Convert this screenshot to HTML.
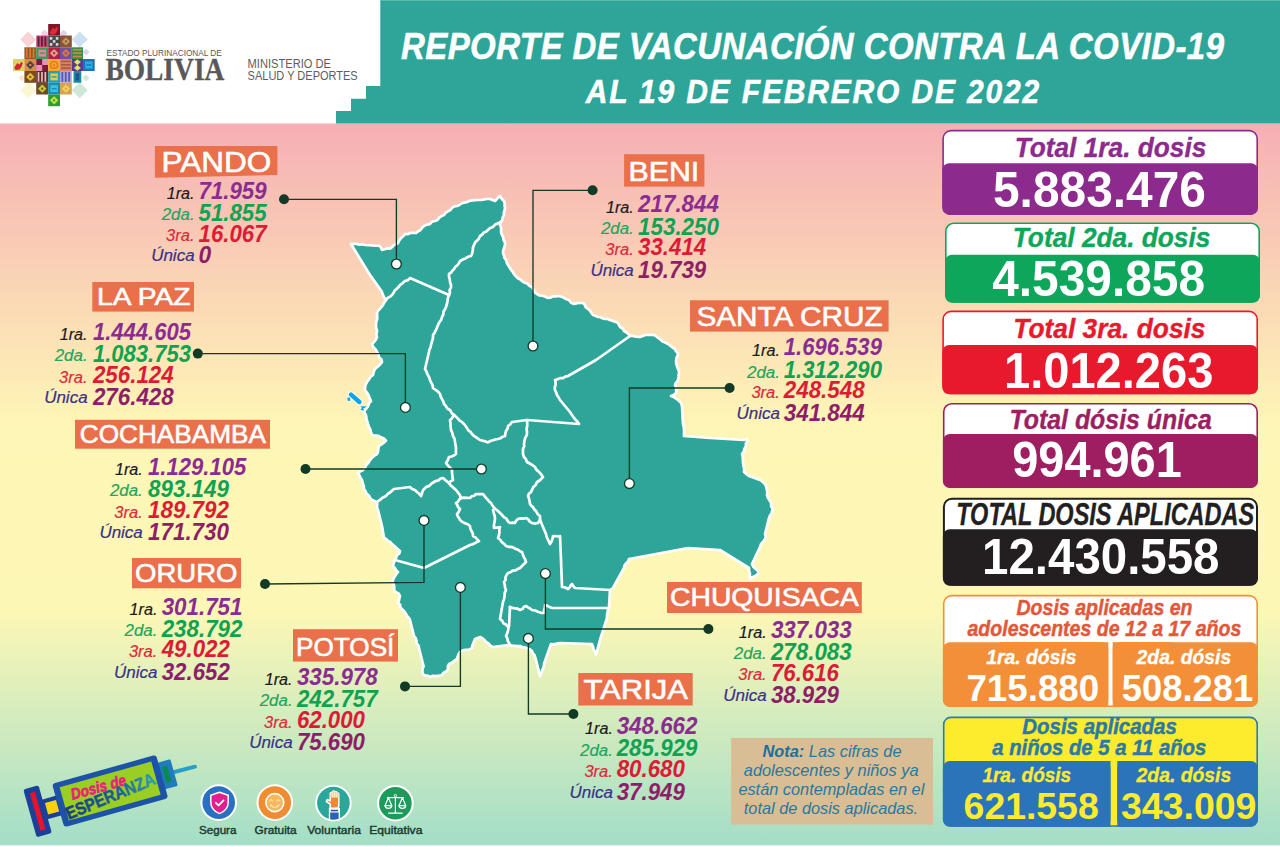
<!DOCTYPE html>
<html lang="es"><head><meta charset="utf-8"><title>Reporte de vacunación contra la COVID-19</title>
<style>html,body{margin:0;padding:0;background:#fff}body{width:1280px;height:847px;overflow:hidden}svg{display:block;font-family:"Liberation Sans", sans-serif}</style></head><body>
<svg width="1280" height="847" viewBox="0 0 1280 847">
<defs>
<linearGradient id="bg" x1="0" y1="0" x2="0" y2="1"><stop offset="0" stop-color="#f6afb5"/><stop offset="0.418" stop-color="#fef6b6"/><stop offset="0.675" stop-color="#fdf7b6"/><stop offset="1" stop-color="#a3dec7"/></linearGradient>
<linearGradient id="esp" x1="0" y1="0" x2="1" y2="0"><stop offset="0" stop-color="#173f7a"/><stop offset="0.6" stop-color="#1d5f9c"/><stop offset="1" stop-color="#2aa0b8"/></linearGradient>
</defs>
<rect x="0" y="0" width="1280" height="847" fill="#ffffff"/>
<rect x="0" y="123.5" width="1280" height="721.8" fill="url(#bg)"/>
<polygon fill="#2da598" points="380.3,0 1280,0 1280,123.5 336,123.5 336,111 351,111 351,98.7 366,98.7 366,86 380.3,86"/>
<rect x="380.3" y="0" width="900" height="1" fill="#5bb9ae"/>
<g transform="translate(0,58.9) scale(1,1.12)">
<text x="401" y="0" font-size="33" fill="#ffffff" font-weight="bold" font-style="italic" textLength="823" lengthAdjust="spacing" stroke="#ffffff" stroke-width="0.5">REPORTE DE VACUNACIÓN CONTRA LA COVID-19</text>
</g>
<g transform="translate(0,102.8) scale(1,1.12)">
<text x="585.7" y="0" font-size="30" fill="#ffffff" font-weight="bold" font-style="italic" textLength="453.5" lengthAdjust="spacing" stroke="#ffffff" stroke-width="0.5">AL 19 DE FEBRERO DE 2022</text>
</g>
<g stroke="#ffffff" stroke-width="2.7" stroke-linejoin="round" stroke-linecap="round">
<polygon fill="#2da598" points="351,244 353.8,243.9 356.6,243.9 359.4,244.8 362.2,244.2 365,245 380,246 381,248 382,250 384.6,249.3 387.2,248.4 390,248.6 392,247.2 393.6,245.2 395.9,244.3 398,243 399.2,240.4 401,238.1 403.2,236.2 405,234 407.8,234.2 410.4,232.9 413.2,232.8 416,233 418.1,231.4 420.4,230 422.1,227.8 424,226 426.7,224.6 429.8,224.2 432,221.6 435,221 437.5,219.9 439.3,217.7 441.5,216.1 444,215 445.6,212.8 447.8,211.3 450.3,210.1 452,208 454.2,206.5 456.9,206 459.3,205 461.5,203.5 464,202.6 466.8,202.2 469.5,200.9 472.3,200.4 475.1,200.1 478,200 481,200 484,199.4 487,199 490,199 492.5,200.1 495,201 496.6,199.3 498.1,197.5 500,196 501,197.9 502.4,199.5 504,201 504.7,203.3 504.6,205.7 505,208 504.6,210.3 503.8,212.6 504,215 502.7,217.4 502.3,220.1 500.3,222.2 500,225 501.1,227.4 501.1,230 501.1,232.6 502,235 503.3,237.3 503.5,240 504.9,242.3 505,245 504.1,247.6 503.3,250.2 503,253 503.9,255.4 504.5,258 506.3,260.1 506.7,262.7 508,265 509.4,267.3 510.9,269.6 512.6,271.7 514,274 515.7,276.1 517.6,278 520,279.2 522,281 524.4,282.7 527.3,283.4 529.3,285.8 532,287 533.5,289.5 534.7,292.1 537,294 539.6,295.5 542.6,295.7 545.3,296.8 548,298 550.5,297.7 552.9,296.3 555.5,296.4 558,296 560.8,296.5 563.5,297.5 566,299 569,300.1 571.1,302.7 574,304 576.9,303.1 580,303 583,303 584.8,304.9 585.9,307.4 588,309 590.1,310.6 591.4,313 593,315 595.3,315.7 597.5,316.9 600,317 602.4,318.2 604.8,319 607.6,318.9 610,320 612.7,320.9 615.4,321.8 618,323 619,325.3 620.5,327.4 622.9,328.7 624,331 626.3,332.3 628.3,334 630,336 632.5,335.9 635,336.5 637.5,336.9 640,337 642.6,336 645.2,334.9 648,335 651,334.9 654,335 656.1,336.2 657.9,337.7 660,339 662.3,341.2 665.2,342.6 668,344 670.3,345.7 672.6,347.5 675,349 675.8,351.1 677.6,352.7 678,355 676.4,357.8 676,361 676.3,363.6 677,366.2 677.8,368.6 679,371 678.8,373.7 678.5,376.4 678,379 677.5,381.3 675.8,382.9 675,385 676,387.6 676.3,390.3 676,393 673.7,394.9 671,396 673.6,396.9 675.8,398.5 678,400 679.9,401.6 681.3,403.6 682,406 683,424 683.8,427 684.1,430 684,433 684,436 710,438 744,440 747,439 747.4,441.4 745.8,443.6 746,446 744.5,448.6 743.8,451.6 742,454 742.7,457 742.9,460 743,463 743.5,466 744.2,468.9 744,472 746.4,474.1 748.9,476 752,477 754.7,478 757.3,479 760,480 762.4,481.6 764.4,483.6 766,486 766.7,489 767.3,491.9 767,495.1 768,498 769.7,500.5 771.2,503.2 771.1,506.5 773,509 772,511.2 771.5,513.7 769.9,515.7 769,518 765,534 765.7,536.5 765,539 763.3,541.6 761.1,544 760,547 752,564 753.3,566.6 755.3,568.7 757.5,570.5 759,573 756.9,574.7 754.8,576.4 752,577.2 750,579 749.8,576.2 749.9,573.5 749,570.8 749,568 720,550 688,548 629,559 628.1,561.5 626.1,563.3 624.6,565.4 624,568 613,588 610,590 609,607 608,609.7 607.5,612.4 607,615.2 607,618 600,640 596,655 595.3,652.1 593.6,649.6 593,646.7 592,644 560,643 557,643.5 554.1,644.4 551,644 544,664 543.7,667.2 542.3,670.1 541.3,673.1 540,676 536,660 535.3,657.6 534.6,655.2 532.9,653.3 532,651 529.9,649.4 527.5,648.3 525.1,647.4 522.3,647.2 520,646 517,646.2 514,645.9 511,645.7 508,645 493,647 490.4,645.7 488.4,643.5 486,642 484.4,639.9 482.3,638.3 480,637 477.5,638 475,639 473.8,641.9 472.6,644.9 472,648 469.2,649.6 465.9,649.8 462.8,650.4 460,652 458.6,654.2 457.7,656.5 457,659 454.4,660.7 451.9,662.7 449,664 447.9,666.2 447.9,668.7 447,671 445.1,672 443.2,673.1 442,675 439,675.7 436,676.1 432.9,675.8 430,677 427.8,675.7 425.1,675.5 423,674 422.4,671.5 422.5,669 423.6,666.5 423,664 419,648 418.4,645.4 416.5,643.4 416.5,640.6 415.7,638.1 414,636 410,620 408.7,617.6 406.8,615.6 405.6,613.2 404,611 402.1,609.3 400.4,607.4 400.1,604.6 398,603 398.9,600.7 399.4,598.3 400,596 398.5,593.5 395.9,592.1 394,590 394.3,587.4 394,585 392.8,582.5 393,580 394.4,577.1 396.1,574.5 398,572 396,570.2 394.8,567.9 393,566 393.7,562.9 395,560 396.1,557.7 397,555.2 399.3,553.5 400,551 397.9,549.4 396,547.5 394.1,545.7 392,544 390.4,542 387.9,541.1 386.4,539 384,538 383.5,535 383,532 382.5,529 382,526 378,510 377,507.4 377.2,504.7 377,502 374.4,501.1 372,500 370,498 368.9,495.5 366.6,493.8 365.5,491.3 364,489 363.7,485.9 362.7,483 362,480 360.4,477.8 359.4,475.3 358,473 360.4,471.4 362.9,470 365,468 366.2,465 368.4,462.7 370,460 372.1,457.7 374.4,455.7 377,454 378.1,451.4 378.3,448.7 379,446 381.4,444.3 383.9,442.7 386,440.6 384,438.5 381.3,437.6 379,436 376.7,435.5 374.3,435.3 372,435 371,432.2 370.3,429.4 368.9,426.8 368,424 367.2,421.4 366.4,418.8 366.2,416 365.1,413.5 364,411 366.2,408.8 368,406.4 369,403.3 371,401 369.6,398.2 368.6,395.2 366.9,392.5 365,390 365.1,387.2 365.8,384.5 367,382 368.9,379.6 370.5,376.9 373,375 373.6,372.5 374.4,370.1 376,368 378.2,366.2 380.3,364.3 382,362 381.3,359.2 379,357.2 378.5,354.4 377,352 375.5,349.2 373.2,347 372,344 374.1,342 375.9,339.7 377,337 376.3,334 377.2,330.9 376.1,328 376,325 376.2,322 377.2,319.1 377.2,316 377,313 378.1,310.7 379.9,308.9 381.5,307 383,305 384.3,302.4 386,300 384.1,297.5 382.8,294.6 381.8,291.6 380,289 370,275"/>
<polyline fill="none" points="386,300 387.6,297.9 390,296.7 392,295 393.5,293 394.7,290.6 396.6,288.9 398.5,287.1 400,285 402.5,283.3 404.7,281.1 407.8,280.2 410,278 449,295"/>
<polyline fill="none" points="501,222 498.1,223.2 495.2,224.5 493,226.9 490,228 488.2,229.8 486.3,231.6 483.8,232.5 482.2,234.6 480,236 478.9,238.5 477.1,240.6 475.1,242.5 474,245 472.9,247.6 472.8,250.6 472.2,253.4 471,256 468,256.8 465.5,258.4 462.7,259.5 460,261 458.9,263.3 457.4,265.3 455.3,266.9 454,269 452.4,270.7 451,272.7 449,274 449,276.8 449.8,279.5 450.1,282.3 451,285 451,287.6 449.6,289.9 450,292.6 449,295"/>
<polyline fill="none" points="449,295 447.8,297.9 447.6,301 446.9,304 446,307 444.9,309.5 443.5,311.8 443.3,314.6 442,317 441.1,319.9 439.3,322.3 438,325 437,327.6 435.9,330.2 434.6,332.7 433,335 433,337.6 432.4,340.1 431.7,342.5 431,345 430.6,347.4 429.4,349.6 429,352 425,369 426.5,371.6 427.5,374.5 429.1,377.1 430,380 431.2,382.6 432.5,385.1 433,388 435.5,389.8 438,391.6 440,394 440.7,396.6 441.9,399 443.3,401.4 444,404 446,406.2 447.6,408.8 450.3,410.3 451.7,413.1 454,415"/>
<polyline fill="none" points="454,415 456.1,416.7 458,418.6 459.7,420.7 462.1,422.1 464,424 465.6,426 467,428.1 468.3,430.4 470.5,431.9 472,434 473.8,435.8 475.9,437.2 477.9,438.6 480,440 482.7,440.7 485.4,441.4 488,442.4 490.3,441 492.9,440.3 495.3,439.4 498,439 500.4,438.3 502.6,436.7 505,436 505.4,433.4 506,430.9 507.6,428.6 508,426 510.3,424.3 512,422 527,420"/>
<polyline fill="none" points="527,420 579,424 577.4,421.5 575.2,419.4 573.4,417 571.6,414.5 570,412 560,400 558.7,397.5 557.1,395.2 556.2,392.5 555,390 554.7,387.5 555.6,385 555.6,382.5 555,380 557.6,379.3 560.1,378.1 563,378.1 565.3,376.6 568,376 596,360 630,336"/>
<polyline fill="none" points="454,415 452.8,416.8 451.8,418.7 450,420 450.4,422.5 450.5,425 450.7,427.5 451,430 452.3,432.9 453,436 454.6,438.8 455,442 455.5,445 456,448 455.9,451 456,454 453.9,455.5 451.6,456.5 449,457 448.2,459.1 447.3,461.1 446,463 447.9,465.4 450,467.7 452,470 452,472.5 452.3,475 452.5,477.5 453,480 450.7,481.1 449,483"/>
<polyline fill="none" points="449,483 446.9,481.4 444.9,479.8 443,478 440.5,478.5 438.7,480.4 436.1,480.8 434,482 431.4,483.6 429.3,485.9 426.3,486.9 424,489 422.6,491.1 421.9,493.6 421,496 419.2,493.8 417,492 414.9,490 412.1,489 410,487 394,489 392,490.7 390,492.5 387.7,493.9 386,496 383.5,497.2 381.3,498.7 379.2,500.4 377,502"/>
<polyline fill="none" points="449,483 450.4,485.1 452.3,486.7 454.1,488.4 456,490 457.9,492.5 459.8,495 461,498"/>
<polyline fill="none" points="461,498 464,497.6 467,497.8 470,498 471.7,496.3 474.2,495.7 476,494 478.3,494.1 480.7,494.2 483,494 484.6,496.1 486.2,498.1 488,500 489.3,501.7 491.1,503 492,505 493.7,507.3 495.8,509.2 498,511 500,513 502,515 503.9,517.1 506.4,518.6 507.8,521.2 510,523 512.5,522.7 515,523 516.1,520.7 518,519 520.6,518.4 523.4,518.6 526,518 528.2,519.4 529.8,521.6 532,523 535,523.6 538,523 540,520"/>
<polyline fill="none" points="493,510 493.7,512.7 494.5,515.3 495,518 494.8,520.5 494.3,523 493.9,525.5 494,528 497,527.6 500,527 499.3,529.7 499.5,532.6 498.9,535.3 498,538 500.2,539.8 501.8,542.2 504.2,543.8 506,546 508.5,546.8 511.2,546.9 513.7,547.7 516,549 518.1,549.8 519.9,551.2 522,552 522.8,554.6 523.8,557.1 525.2,559.4 526,562 524,564 522,566 520,568 517.6,569 515.4,570.4 512.6,570.6 510.5,572.3 508,573 506.5,575 505.5,577.3 505.5,580 504,582 504.7,584.7 505,587.4 506,590 504.7,592.9 504.6,596 504,599.1 503,602 500,619 502.2,620.8 503.6,623.4 506.2,624.8 508,627"/>
<polyline fill="none" points="461,498 459.3,499.6 458,501.6 456,503 457.3,505 458.2,507.3 460,509 458.9,511.7 457,514 457.7,516.2 459,518 460,520 462.3,521.9 464.9,523.2 467.7,524.2 470,526 470.3,528.6 471.5,531 472.8,533.3 473,536 475.4,537.2 477,539.3 479,541 476.8,542.1 474.6,543.2 472.4,544.4 470,545 424,568 395,560"/>
<polyline fill="none" points="527,420 527.2,423 527.2,426 526.6,429 527,432 526.8,435.1 525.2,437.9 524.4,440.9 524,444 524.2,446.5 523,448.9 523,451.5 523,454 523.9,456.9 525.9,459.2 527,462 529.7,463.5 532.4,465.2 535,467 536.1,469.4 538.1,471.1 539.9,472.9 541.5,474.9 543,477 541.2,478.9 539.3,480.7 537,482 535.7,484.9 533.3,487.1 532,490 530.9,492.1 528.9,493.7 528,496 529,498.6 529.6,501.3 530,504 531.3,505.7 533,507.1 534,509 536.1,511.2 537.6,514 540,516 540,520"/>
<polyline fill="none" points="540,520 546,534 546.6,536.7 547.7,539.1 548.9,541.6 550,544 551.5,541.5 552.5,538.9 553,536 555.3,536.1 557.7,536.3 560,536 561,560 562,587 565.2,587.5 568,589 569.6,587.5 570.6,585.6 572,584 573.3,586.2 575,588 610,590"/>
<polyline fill="none" points="510,607 512.5,607.9 515.1,608.3 517.7,608.7 520,610 522.3,609.1 523.8,607 526,606 528,607.3 530.1,608.5 532,610 535.1,610.5 537.9,611.8 540.9,612.8 544,613 544,610.3 544.9,607.7 545,605 547.4,605.8 549.6,607.1 552,608 609,608"/>
<polyline fill="none" points="510,607 509,626 508.4,628.5 507.9,631.1 507.1,633.6 506,636 507.3,638.1 507.6,640.7 509,642.7 510,645"/>
</g>
<line x1="351" y1="394.6" x2="359.4" y2="402" stroke="#fffdf0" stroke-width="6.4" stroke-linecap="round"/><polygon points="347.3,398 349.6,397.4 350.4,400.4 348,401" fill="#fffdf0" stroke="#fffdf0" stroke-width="2" stroke-linejoin="round"/><polygon points="360.8,406.2 366.4,406.4 364.6,408 363.2,408.2 363.6,410.6 360.6,409.8 362,408" fill="#fffdf0" stroke="#fffdf0" stroke-width="2" stroke-linejoin="round"/>
<line x1="351" y1="394.6" x2="359.4" y2="402" stroke="#12a2e6" stroke-width="4.4" stroke-linecap="round"/><polygon points="347.3,398 349.6,397.4 350.4,400.4 348,401" fill="#12a2e6" stroke="#12a2e6" stroke-width="0.3" stroke-linejoin="round"/><polygon points="360.8,406.2 366.4,406.4 364.6,408 363.2,408.2 363.6,410.6 360.6,409.8 362,408" fill="#12a2e6" stroke="#12a2e6" stroke-width="0.3" stroke-linejoin="round"/>
<g fill="none" stroke="#123a26" stroke-width="1.35">
<polyline points="284,199.3 396.4,199.3 396.4,264"/>
<polyline points="592.6,190.3 533,190.3 533,346"/>
<polyline points="197.8,353.6 405.4,353.6 405.4,407.4"/>
<polyline points="305.5,469 481.4,469"/>
<polyline points="265,584 424,582.3 424,520.4"/>
<polyline points="405,686.4 460.4,686.4 460.4,587.4"/>
<polyline points="573.4,714 528.4,714 528.4,638.4"/>
<polyline points="708.4,629 545.4,629 545.4,573.6"/>
<polyline points="729.6,388 629.4,388 629.4,483.6"/>
</g>
<circle cx="284" cy="199.3" r="5" fill="#123a26"/>
<circle cx="396.4" cy="264" r="4.9" fill="#ffffff" stroke="#123a26" stroke-width="1.3"/>
<circle cx="592.6" cy="190.3" r="5" fill="#123a26"/>
<circle cx="533" cy="346" r="4.9" fill="#ffffff" stroke="#123a26" stroke-width="1.3"/>
<circle cx="197.8" cy="353.6" r="5" fill="#123a26"/>
<circle cx="405.4" cy="407.4" r="4.9" fill="#ffffff" stroke="#123a26" stroke-width="1.3"/>
<circle cx="305.5" cy="469" r="5" fill="#123a26"/>
<circle cx="481.4" cy="469" r="4.9" fill="#ffffff" stroke="#123a26" stroke-width="1.3"/>
<circle cx="265" cy="584" r="5" fill="#123a26"/>
<circle cx="424" cy="520.4" r="4.9" fill="#ffffff" stroke="#123a26" stroke-width="1.3"/>
<circle cx="405" cy="686.4" r="5" fill="#123a26"/>
<circle cx="460.4" cy="587.4" r="4.9" fill="#ffffff" stroke="#123a26" stroke-width="1.3"/>
<circle cx="573.4" cy="714" r="5" fill="#123a26"/>
<circle cx="528.4" cy="638.4" r="4.9" fill="#ffffff" stroke="#123a26" stroke-width="1.3"/>
<circle cx="708.4" cy="629" r="5" fill="#123a26"/>
<circle cx="545.4" cy="573.6" r="4.9" fill="#ffffff" stroke="#123a26" stroke-width="1.3"/>
<circle cx="729.6" cy="388" r="5" fill="#123a26"/>
<circle cx="629.4" cy="483.6" r="4.9" fill="#ffffff" stroke="#123a26" stroke-width="1.3"/>
<polygon points="154.9,146 277.4,146 277.4,174.9 154.9,177.7" fill="#e9704b"/>
<text x="161.6" y="171.6" font-size="28.6" fill="#ffffff" textLength="109.8" lengthAdjust="spacingAndGlyphs" stroke="#ffffff" stroke-width="0.6" stroke-linejoin="round">PANDO</text>
<text x="166.687" y="198.8" font-size="17.2" fill="#1b1b1b" font-style="italic" textLength="27.9126" lengthAdjust="spacingAndGlyphs" stroke="#1b1b1b" stroke-width="0.2">1ra.</text>
<text x="198.5" y="198.6" font-size="23.8" fill="#8b2d90" font-weight="bold" font-style="italic" textLength="68.1" lengthAdjust="spacingAndGlyphs">71.959</text>
<text x="161.714" y="220.3" font-size="17.2" fill="#22a55d" font-style="italic" textLength="32.886" lengthAdjust="spacingAndGlyphs" stroke="#22a55d" stroke-width="0.2">2da.</text>
<text x="198.5" y="220.9" font-size="23.8" fill="#10a251" font-weight="bold" font-style="italic" textLength="68.1" lengthAdjust="spacingAndGlyphs">51.855</text>
<text x="166.088" y="241.4" font-size="17.2" fill="#d92b3a" font-style="italic" textLength="28.512" lengthAdjust="spacingAndGlyphs" stroke="#d92b3a" stroke-width="0.2">3ra.</text>
<text x="198.5" y="241.7" font-size="23.8" fill="#dc1c35" font-weight="bold" font-style="italic" textLength="68.1" lengthAdjust="spacingAndGlyphs">16.067</text>
<text x="151.184" y="261" font-size="17.2" fill="#3a3187" font-style="italic" textLength="43.416" lengthAdjust="spacingAndGlyphs" stroke="#3a3187" stroke-width="0.2">Única</text>
<text x="198.5" y="262.9" font-size="23.8" fill="#8d1f68" font-weight="bold" font-style="italic" textLength="12.7" lengthAdjust="spacingAndGlyphs">0</text>
<rect x="92.3" y="282" width="101.7" height="29.6" fill="#e9704b"/>
<text x="97.1" y="305" font-size="23.9" fill="#ffffff" textLength="93.3" lengthAdjust="spacingAndGlyphs" stroke="#ffffff" stroke-width="0.6" stroke-linejoin="round">LA PAZ</text>
<text x="59.6874" y="339.9" font-size="17.2" fill="#1b1b1b" font-style="italic" textLength="27.9126" lengthAdjust="spacingAndGlyphs" stroke="#1b1b1b" stroke-width="0.2">1ra.</text>
<text x="92.9" y="339.7" font-size="23.8" fill="#8b2d90" font-weight="bold" font-style="italic" textLength="98.1" lengthAdjust="spacingAndGlyphs">1.444.605</text>
<text x="54.714" y="361.4" font-size="17.2" fill="#22a55d" font-style="italic" textLength="32.886" lengthAdjust="spacingAndGlyphs" stroke="#22a55d" stroke-width="0.2">2da.</text>
<text x="92.9" y="362" font-size="23.8" fill="#10a251" font-weight="bold" font-style="italic" textLength="98.1" lengthAdjust="spacingAndGlyphs">1.083.753</text>
<text x="59.088" y="382.5" font-size="17.2" fill="#d92b3a" font-style="italic" textLength="28.512" lengthAdjust="spacingAndGlyphs" stroke="#d92b3a" stroke-width="0.2">3ra.</text>
<text x="92.9" y="382.8" font-size="23.8" fill="#dc1c35" font-weight="bold" font-style="italic" textLength="80.8" lengthAdjust="spacingAndGlyphs">256.124</text>
<text x="44.184" y="403.2" font-size="17.2" fill="#3a3187" font-style="italic" textLength="43.416" lengthAdjust="spacingAndGlyphs" stroke="#3a3187" stroke-width="0.2">Única</text>
<text x="92.9" y="405.1" font-size="23.8" fill="#8d1f68" font-weight="bold" font-style="italic" textLength="80.8" lengthAdjust="spacingAndGlyphs">276.428</text>
<rect x="75" y="419.8" width="195" height="28.9" fill="#e9704b"/>
<text x="79.8" y="442.6" font-size="25" fill="#ffffff" textLength="186.1" lengthAdjust="spacingAndGlyphs" stroke="#ffffff" stroke-width="0.6" stroke-linejoin="round">COCHABAMBA</text>
<text x="114.887" y="474.8" font-size="17.2" fill="#1b1b1b" font-style="italic" textLength="27.9126" lengthAdjust="spacingAndGlyphs" stroke="#1b1b1b" stroke-width="0.2">1ra.</text>
<text x="148.1" y="474.6" font-size="23.8" fill="#8b2d90" font-weight="bold" font-style="italic" textLength="98.1" lengthAdjust="spacingAndGlyphs">1.129.105</text>
<text x="109.914" y="496.4" font-size="17.2" fill="#22a55d" font-style="italic" textLength="32.886" lengthAdjust="spacingAndGlyphs" stroke="#22a55d" stroke-width="0.2">2da.</text>
<text x="148.1" y="497" font-size="23.8" fill="#10a251" font-weight="bold" font-style="italic" textLength="80.8" lengthAdjust="spacingAndGlyphs">893.149</text>
<text x="114.288" y="517.7" font-size="17.2" fill="#d92b3a" font-style="italic" textLength="28.512" lengthAdjust="spacingAndGlyphs" stroke="#d92b3a" stroke-width="0.2">3ra.</text>
<text x="148.1" y="518" font-size="23.8" fill="#dc1c35" font-weight="bold" font-style="italic" textLength="80.8" lengthAdjust="spacingAndGlyphs">189.792</text>
<text x="99.384" y="537.7" font-size="17.2" fill="#3a3187" font-style="italic" textLength="43.416" lengthAdjust="spacingAndGlyphs" stroke="#3a3187" stroke-width="0.2">Única</text>
<text x="148.1" y="539.6" font-size="23.8" fill="#8d1f68" font-weight="bold" font-style="italic" textLength="80.8" lengthAdjust="spacingAndGlyphs">171.730</text>
<rect x="132" y="558" width="109" height="30.3" fill="#e9704b"/>
<text x="135" y="581.8" font-size="26.5" fill="#ffffff" textLength="102.4" lengthAdjust="spacingAndGlyphs" stroke="#ffffff" stroke-width="0.6" stroke-linejoin="round">ORURO</text>
<text x="129.487" y="614.9" font-size="17.2" fill="#1b1b1b" font-style="italic" textLength="27.9126" lengthAdjust="spacingAndGlyphs" stroke="#1b1b1b" stroke-width="0.2">1ra.</text>
<text x="161.7" y="614.7" font-size="23.8" fill="#8b2d90" font-weight="bold" font-style="italic" textLength="80.8" lengthAdjust="spacingAndGlyphs">301.751</text>
<text x="124.514" y="636.4" font-size="17.2" fill="#22a55d" font-style="italic" textLength="32.886" lengthAdjust="spacingAndGlyphs" stroke="#22a55d" stroke-width="0.2">2da.</text>
<text x="161.7" y="637" font-size="23.8" fill="#10a251" font-weight="bold" font-style="italic" textLength="80.8" lengthAdjust="spacingAndGlyphs">238.792</text>
<text x="128.888" y="657" font-size="17.2" fill="#d92b3a" font-style="italic" textLength="28.512" lengthAdjust="spacingAndGlyphs" stroke="#d92b3a" stroke-width="0.2">3ra.</text>
<text x="161.7" y="657.3" font-size="23.8" fill="#dc1c35" font-weight="bold" font-style="italic" textLength="68.1" lengthAdjust="spacingAndGlyphs">49.022</text>
<text x="113.984" y="678.2" font-size="17.2" fill="#3a3187" font-style="italic" textLength="43.416" lengthAdjust="spacingAndGlyphs" stroke="#3a3187" stroke-width="0.2">Única</text>
<text x="161.7" y="680.1" font-size="23.8" fill="#8d1f68" font-weight="bold" font-style="italic" textLength="68.1" lengthAdjust="spacingAndGlyphs">32.652</text>
<rect x="293" y="629.2" width="105" height="32.4" fill="#e9704b"/>
<text x="296" y="655.7" font-size="26.5" fill="#ffffff" textLength="98.4" lengthAdjust="spacingAndGlyphs" stroke="#ffffff" stroke-width="0.6" stroke-linejoin="round">POTOSÍ</text>
<text x="264.687" y="685.3" font-size="17.2" fill="#1b1b1b" font-style="italic" textLength="27.9126" lengthAdjust="spacingAndGlyphs" stroke="#1b1b1b" stroke-width="0.2">1ra.</text>
<text x="296.9" y="685.1" font-size="23.8" fill="#8b2d90" font-weight="bold" font-style="italic" textLength="80.8" lengthAdjust="spacingAndGlyphs">335.978</text>
<text x="259.714" y="706.4" font-size="17.2" fill="#22a55d" font-style="italic" textLength="32.886" lengthAdjust="spacingAndGlyphs" stroke="#22a55d" stroke-width="0.2">2da.</text>
<text x="296.9" y="707" font-size="23.8" fill="#10a251" font-weight="bold" font-style="italic" textLength="80.8" lengthAdjust="spacingAndGlyphs">242.757</text>
<text x="264.088" y="727.7" font-size="17.2" fill="#d92b3a" font-style="italic" textLength="28.512" lengthAdjust="spacingAndGlyphs" stroke="#d92b3a" stroke-width="0.2">3ra.</text>
<text x="296.9" y="728" font-size="23.8" fill="#dc1c35" font-weight="bold" font-style="italic" textLength="68.1" lengthAdjust="spacingAndGlyphs">62.000</text>
<text x="249.184" y="747.7" font-size="17.2" fill="#3a3187" font-style="italic" textLength="43.416" lengthAdjust="spacingAndGlyphs" stroke="#3a3187" stroke-width="0.2">Única</text>
<text x="296.9" y="749.6" font-size="23.8" fill="#8d1f68" font-weight="bold" font-style="italic" textLength="68.1" lengthAdjust="spacingAndGlyphs">75.690</text>
<rect x="578.3" y="673" width="114.4" height="32.5" fill="#e9704b"/>
<text x="583.4" y="699" font-size="27.6" fill="#ffffff" textLength="104.6" lengthAdjust="spacingAndGlyphs" stroke="#ffffff" stroke-width="0.6" stroke-linejoin="round">TARIJA</text>
<text x="584.987" y="734" font-size="17.2" fill="#1b1b1b" font-style="italic" textLength="27.9126" lengthAdjust="spacingAndGlyphs" stroke="#1b1b1b" stroke-width="0.2">1ra.</text>
<text x="616.7" y="733.8" font-size="23.8" fill="#8b2d90" font-weight="bold" font-style="italic" textLength="80.8" lengthAdjust="spacingAndGlyphs">348.662</text>
<text x="580.014" y="755.8" font-size="17.2" fill="#22a55d" font-style="italic" textLength="32.886" lengthAdjust="spacingAndGlyphs" stroke="#22a55d" stroke-width="0.2">2da.</text>
<text x="616.7" y="756.4" font-size="23.8" fill="#10a251" font-weight="bold" font-style="italic" textLength="80.8" lengthAdjust="spacingAndGlyphs">285.929</text>
<text x="584.388" y="776.8" font-size="17.2" fill="#d92b3a" font-style="italic" textLength="28.512" lengthAdjust="spacingAndGlyphs" stroke="#d92b3a" stroke-width="0.2">3ra.</text>
<text x="616.7" y="777.1" font-size="23.8" fill="#dc1c35" font-weight="bold" font-style="italic" textLength="68.1" lengthAdjust="spacingAndGlyphs">80.680</text>
<text x="569.484" y="797.6" font-size="17.2" fill="#3a3187" font-style="italic" textLength="43.416" lengthAdjust="spacingAndGlyphs" stroke="#3a3187" stroke-width="0.2">Única</text>
<text x="616.7" y="799.5" font-size="23.8" fill="#8d1f68" font-weight="bold" font-style="italic" textLength="68.1" lengthAdjust="spacingAndGlyphs">37.949</text>
<rect x="667" y="582" width="194.8" height="31" fill="#e9704b"/>
<text x="670" y="606" font-size="26" fill="#ffffff" textLength="188.8" lengthAdjust="spacingAndGlyphs" stroke="#ffffff" stroke-width="0.6" stroke-linejoin="round">CHUQUISACA</text>
<text x="738.787" y="637.7" font-size="17.2" fill="#1b1b1b" font-style="italic" textLength="27.9126" lengthAdjust="spacingAndGlyphs" stroke="#1b1b1b" stroke-width="0.2">1ra.</text>
<text x="770.9" y="637.5" font-size="23.8" fill="#8b2d90" font-weight="bold" font-style="italic" textLength="80.8" lengthAdjust="spacingAndGlyphs">337.033</text>
<text x="733.814" y="659.2" font-size="17.2" fill="#22a55d" font-style="italic" textLength="32.886" lengthAdjust="spacingAndGlyphs" stroke="#22a55d" stroke-width="0.2">2da.</text>
<text x="770.9" y="659.8" font-size="23.8" fill="#10a251" font-weight="bold" font-style="italic" textLength="80.8" lengthAdjust="spacingAndGlyphs">278.083</text>
<text x="738.188" y="680.3" font-size="17.2" fill="#d92b3a" font-style="italic" textLength="28.512" lengthAdjust="spacingAndGlyphs" stroke="#d92b3a" stroke-width="0.2">3ra.</text>
<text x="770.9" y="680.6" font-size="23.8" fill="#dc1c35" font-weight="bold" font-style="italic" textLength="68.1" lengthAdjust="spacingAndGlyphs">76.616</text>
<text x="723.284" y="701" font-size="17.2" fill="#3a3187" font-style="italic" textLength="43.416" lengthAdjust="spacingAndGlyphs" stroke="#3a3187" stroke-width="0.2">Única</text>
<text x="770.9" y="702.9" font-size="23.8" fill="#8d1f68" font-weight="bold" font-style="italic" textLength="68.1" lengthAdjust="spacingAndGlyphs">38.929</text>
<rect x="690" y="300.3" width="198.6" height="31.3" fill="#e9704b"/>
<text x="696.4" y="325.7" font-size="27" fill="#ffffff" textLength="186.4" lengthAdjust="spacingAndGlyphs" stroke="#ffffff" stroke-width="0.6" stroke-linejoin="round">SANTA CRUZ</text>
<text x="751.987" y="355.5" font-size="17.2" fill="#1b1b1b" font-style="italic" textLength="27.9126" lengthAdjust="spacingAndGlyphs" stroke="#1b1b1b" stroke-width="0.2">1ra.</text>
<text x="783.8" y="355.3" font-size="23.8" fill="#8b2d90" font-weight="bold" font-style="italic" textLength="98.1" lengthAdjust="spacingAndGlyphs">1.696.539</text>
<text x="747.014" y="377.5" font-size="17.2" fill="#22a55d" font-style="italic" textLength="32.886" lengthAdjust="spacingAndGlyphs" stroke="#22a55d" stroke-width="0.2">2da.</text>
<text x="783.8" y="378.1" font-size="23.8" fill="#10a251" font-weight="bold" font-style="italic" textLength="98.1" lengthAdjust="spacingAndGlyphs">1.312.290</text>
<text x="751.388" y="398.1" font-size="17.2" fill="#d92b3a" font-style="italic" textLength="28.512" lengthAdjust="spacingAndGlyphs" stroke="#d92b3a" stroke-width="0.2">3ra.</text>
<text x="783.8" y="398.4" font-size="23.8" fill="#dc1c35" font-weight="bold" font-style="italic" textLength="80.8" lengthAdjust="spacingAndGlyphs">248.548</text>
<text x="736.484" y="418.8" font-size="17.2" fill="#3a3187" font-style="italic" textLength="43.416" lengthAdjust="spacingAndGlyphs" stroke="#3a3187" stroke-width="0.2">Única</text>
<text x="783.8" y="420.7" font-size="23.8" fill="#8d1f68" font-weight="bold" font-style="italic" textLength="80.8" lengthAdjust="spacingAndGlyphs">341.844</text>
<rect x="624.1" y="154.2" width="80.3" height="32.4" fill="#e9704b"/>
<text x="628.6" y="180.7" font-size="28.1" fill="#ffffff" textLength="70.7" lengthAdjust="spacingAndGlyphs" stroke="#ffffff" stroke-width="0.6" stroke-linejoin="round">BENI</text>
<text x="605.887" y="212.5" font-size="17.2" fill="#1b1b1b" font-style="italic" textLength="27.9126" lengthAdjust="spacingAndGlyphs" stroke="#1b1b1b" stroke-width="0.2">1ra.</text>
<text x="638.1" y="212.3" font-size="23.8" fill="#8b2d90" font-weight="bold" font-style="italic" textLength="80.8" lengthAdjust="spacingAndGlyphs">217.844</text>
<text x="600.914" y="234" font-size="17.2" fill="#22a55d" font-style="italic" textLength="32.886" lengthAdjust="spacingAndGlyphs" stroke="#22a55d" stroke-width="0.2">2da.</text>
<text x="638.1" y="234.6" font-size="23.8" fill="#10a251" font-weight="bold" font-style="italic" textLength="80.8" lengthAdjust="spacingAndGlyphs">153.250</text>
<text x="605.288" y="255.1" font-size="17.2" fill="#d92b3a" font-style="italic" textLength="28.512" lengthAdjust="spacingAndGlyphs" stroke="#d92b3a" stroke-width="0.2">3ra.</text>
<text x="638.1" y="255.4" font-size="23.8" fill="#dc1c35" font-weight="bold" font-style="italic" textLength="68.1" lengthAdjust="spacingAndGlyphs">33.414</text>
<text x="590.384" y="275.6" font-size="17.2" fill="#3a3187" font-style="italic" textLength="43.416" lengthAdjust="spacingAndGlyphs" stroke="#3a3187" stroke-width="0.2">Única</text>
<text x="638.1" y="277.5" font-size="23.8" fill="#8d1f68" font-weight="bold" font-style="italic" textLength="68.1" lengthAdjust="spacingAndGlyphs">19.739</text>
<rect x="943.1" y="130.6" width="314.1" height="83.5" rx="8" ry="8" fill="#ffffff" stroke="#8d2a8e" stroke-width="1.6"/>
<rect x="942.3" y="163.2" width="315.7" height="51.7" rx="7" ry="7" fill="#8d2a8e"/>
<text x="1014.7" y="157" font-size="27.2" fill="#8d2a8e" font-weight="bold" font-style="italic" textLength="191.6" lengthAdjust="spacingAndGlyphs" stroke="#8d2a8e" stroke-width="0.35">Total 1ra. dosis</text>
<text x="993" y="207" font-size="50.5" fill="#ffffff" font-weight="bold" textLength="212.9" lengthAdjust="spacingAndGlyphs">5.883.476</text>
<rect x="945.8" y="223.3" width="313.4" height="78.6" rx="8" ry="8" fill="#ffffff" stroke="#0ea65a" stroke-width="1.6"/>
<rect x="945" y="254.8" width="315" height="47.9" rx="7" ry="7" fill="#0ea65a"/>
<text x="1012.8" y="247.2" font-size="27.2" fill="#0ea65a" font-weight="bold" font-style="italic" textLength="197.6" lengthAdjust="spacingAndGlyphs" stroke="#0ea65a" stroke-width="0.35">Total 2da. dosis</text>
<text x="992.2" y="296.4" font-size="50.5" fill="#ffffff" font-weight="bold" textLength="212.8" lengthAdjust="spacingAndGlyphs">4.539.858</text>
<rect x="943.1" y="311.4" width="314.1" height="82.1" rx="8" ry="8" fill="#ffffff" stroke="#e8192d" stroke-width="1.6"/>
<rect x="942.3" y="345" width="315.7" height="49.3" rx="7" ry="7" fill="#e8192d"/>
<text x="1013.3" y="338.3" font-size="27.2" fill="#e8192d" font-weight="bold" font-style="italic" textLength="192.2" lengthAdjust="spacingAndGlyphs" stroke="#e8192d" stroke-width="0.35">Total 3ra. dosis</text>
<text x="1004" y="387.5" font-size="50.5" fill="#ffffff" font-weight="bold" textLength="209.4" lengthAdjust="spacingAndGlyphs">1.012.263</text>
<rect x="943.7" y="403.8" width="313.5" height="83.4" rx="8" ry="8" fill="#ffffff" stroke="#9d1f62" stroke-width="1.6"/>
<rect x="942.9" y="434" width="315.1" height="54" rx="7" ry="7" fill="#9d1f62"/>
<text x="1009.5" y="428.5" font-size="27.2" fill="#9d1f62" font-weight="bold" font-style="italic" textLength="202.3" lengthAdjust="spacingAndGlyphs" stroke="#9d1f62" stroke-width="0.35">Total dósis única</text>
<text x="1012.2" y="477.2" font-size="50.5" fill="#ffffff" font-weight="bold" textLength="169.6" lengthAdjust="spacingAndGlyphs">994.961</text>
<rect x="943.9" y="498.8" width="313.1" height="86" rx="8" ry="8" fill="#ffffff" stroke="#231f20" stroke-width="2"/>
<rect x="942.9" y="529.2" width="315.1" height="56.6" rx="7" ry="7" fill="#231f20"/>
<text x="956.2" y="524.6" font-size="30.8" fill="#231f20" font-weight="bold" font-style="italic" textLength="298" lengthAdjust="spacingAndGlyphs" stroke="#231f20" stroke-width="0.35">TOTAL DOSIS APLICADAS</text>
<text x="982.1" y="574.3" font-size="50.5" fill="#ffffff" font-weight="bold" textLength="237.4" lengthAdjust="spacingAndGlyphs">12.430.558</text>
<rect x="943.7" y="595.6" width="313.5" height="110.6" rx="8" ry="8" fill="#ffffff" stroke="#f28f38" stroke-width="1.6"/>
<rect x="942.9" y="642.2" width="165.4" height="64.8" rx="7" ry="7" fill="#f28f38"/>
<rect x="1000" y="642.2" width="108.3" height="64.8" fill="#f28f38"/>
<rect x="1112.7" y="642.2" width="145.3" height="64.8" rx="7" ry="7" fill="#f28f38"/>
<rect x="1112.7" y="642.2" width="60" height="64.8" fill="#f28f38"/>
<text x="1016.5" y="614.5" font-size="21.4" fill="#e2583a" font-weight="bold" font-style="italic" textLength="176" lengthAdjust="spacingAndGlyphs" stroke="#e2583a" stroke-width="0.45">Dosis aplicadas en</text>
<text x="967.5" y="635.9" font-size="21.4" fill="#e2583a" font-weight="bold" font-style="italic" textLength="273.8" lengthAdjust="spacingAndGlyphs" stroke="#e2583a" stroke-width="0.45">adolescentes de 12 a 17 años</text>
<text x="986.2" y="664.2" font-size="21" fill="#ffffff" font-weight="bold" font-style="italic" textLength="90.4" lengthAdjust="spacingAndGlyphs" stroke="#ffffff" stroke-width="0.35">1ra. dósis</text>
<text x="1136.6" y="664.2" font-size="21" fill="#ffffff" font-weight="bold" font-style="italic" textLength="94.6" lengthAdjust="spacingAndGlyphs" stroke="#ffffff" stroke-width="0.35">2da. dósis</text>
<text x="966.4" y="700.7" font-size="37.3" fill="#ffffff" font-weight="bold" textLength="132.8" lengthAdjust="spacingAndGlyphs">715.880</text>
<text x="1121.7" y="700.7" font-size="37.3" fill="#ffffff" font-weight="bold" textLength="131.5" lengthAdjust="spacingAndGlyphs">508.281</text>
<rect x="943.7" y="717.4" width="313.5" height="108.6" rx="7" ry="7" fill="#fdeb2d" stroke="#2f7aa8" stroke-width="1.6"/>
<rect x="942.9" y="761" width="167.6" height="65.8" rx="7" ry="7" fill="#2b74b9"/>
<rect x="1000" y="761" width="110.5" height="65.8" fill="#2b74b9"/>
<rect x="1117.3" y="761" width="140.7" height="65.8" rx="7" ry="7" fill="#2b74b9"/>
<rect x="1117.3" y="761" width="60" height="65.8" fill="#2b74b9"/>
<text x="1022.3" y="734.3" font-size="21.4" fill="#2d79a6" font-weight="bold" font-style="italic" textLength="154.5" lengthAdjust="spacingAndGlyphs" stroke="#2d79a6" stroke-width="0.45">Dosis aplicadas</text>
<text x="992.2" y="754.8" font-size="21.4" fill="#2d79a6" font-weight="bold" font-style="italic" textLength="214.1" lengthAdjust="spacingAndGlyphs" stroke="#2d79a6" stroke-width="0.45">a niños de 5 a 11 años</text>
<text x="982.4" y="781.8" font-size="21" fill="#fdeb2d" font-weight="bold" font-style="italic" textLength="88.8" lengthAdjust="spacingAndGlyphs" stroke="#fdeb2d" stroke-width="0.35">1ra. dósis</text>
<text x="1136.6" y="781.8" font-size="21" fill="#fdeb2d" font-weight="bold" font-style="italic" textLength="94.6" lengthAdjust="spacingAndGlyphs" stroke="#fdeb2d" stroke-width="0.35">2da. dósis</text>
<text x="963.6" y="819.1" font-size="37.5" fill="#fdeb2d" font-weight="bold" textLength="135.1" lengthAdjust="spacingAndGlyphs">621.558</text>
<text x="1120.9" y="819.1" font-size="37.5" fill="#fdeb2d" font-weight="bold" textLength="135.6" lengthAdjust="spacingAndGlyphs">343.009</text>
<rect x="731.1" y="738" width="201.9" height="86.6" fill="#d9be95"/>
<text x="762.5" y="756.8" font-size="16.4" fill="#27799f" font-style="italic" textLength="139" lengthAdjust="spacingAndGlyphs"><tspan font-weight="bold" fill="#1d6f9c">Nota:</tspan> Las cifras de</text>
<text x="743.8" y="775.7" font-size="16.4" fill="#27799f" font-style="italic" textLength="174.7" lengthAdjust="spacingAndGlyphs">adolescentes y niños ya</text>
<text x="738.4" y="794.6" font-size="16.4" fill="#27799f" font-style="italic" textLength="185.9" lengthAdjust="spacingAndGlyphs">están contempladas en el</text>
<text x="743.8" y="813.8" font-size="16.4" fill="#27799f" font-style="italic" textLength="174.3" lengthAdjust="spacingAndGlyphs">total de dosis aplicadas.</text>
<polygon points="20.2,39.6 28.2,31.6 36.2,39.6 28.2,47.6" fill="#f9d3d6"/>
<polygon points="71.7,39.4 79.7,31.4 87.7,39.4 79.7,47.4" fill="#cfe0f2"/>
<polygon points="20.5,90.3 28.5,82.3 36.5,90.3 28.5,98.3" fill="#faf6cf"/>
<polygon points="71.7,90.3 79.7,82.3 87.7,90.3 79.7,98.3" fill="#cfe7d6"/>
<polygon points="40.5,33.5 44.5,29.5 48.5,33.5 44.5,37.5" fill="#f6cfe0"/>
<polygon points="59.5,33.5 63.5,29.5 67.5,33.5 63.5,37.5" fill="#ddd3ec"/>
<polygon points="20,62 23,59 26,62 23,65" fill="#f3e3c0"/>
<polygon points="82.5,52 86,48.5 89.5,52 86,55.5" fill="#dcd4ee"/>
<polygon points="82.5,78 86,74.5 89.5,78 86,81.5" fill="#cde8dc"/>
<polygon points="18.5,78 22,74.5 25.5,78 22,81.5" fill="#f7e6d0"/>
<rect x="48.2" y="24" width="11.8" height="11.5" fill="#7d1522"/>
<path d="M50.7,30.75 l2,-3 l2,1.4 l2,-2.4 l1.4,1 l-1,3.4 l-2,3 l-4,0.6 l-1.4,-2 z" fill="#e3283a"/>
<rect x="36.2" y="35.5" width="12" height="11.8" fill="#cf4483"/>
<rect x="37.7" y="36.5" width="1.7" height="9.8" fill="#4b2a21"/>
<rect x="41.1" y="36.5" width="1.7" height="9.8" fill="#4b2a21"/>
<rect x="44.5" y="36.5" width="1.7" height="9.8" fill="#4b2a21"/>
<rect x="48.2" y="35.5" width="11.8" height="11.8" fill="#47474a"/>
<rect x="49.8" y="37.1" width="2.6" height="2.6" fill="#e2d6dc"/>
<rect x="49.8" y="43.1" width="2.6" height="2.6" fill="#e2d6dc"/>
<rect x="52.8" y="40.1" width="2.6" height="2.6" fill="#e2d6dc"/>
<rect x="55.8" y="37.1" width="2.6" height="2.6" fill="#e2d6dc"/>
<rect x="55.8" y="43.1" width="2.6" height="2.6" fill="#e2d6dc"/>
<rect x="60" y="35.5" width="11.8" height="11.8" fill="#8b5333"/>
<polygon points="61.7,41.4 65.9,37.2 70.1,41.4 65.9,45.6" fill="#c29a5a"/>
<rect x="64.9" y="40.4" width="2" height="2" fill="#8b5333"/>
<rect x="24.4" y="47.3" width="11.8" height="11.7" fill="#8a5a2f"/>
<rect x="25.9" y="48.3" width="1.7" height="9.7" fill="#e8742f"/>
<rect x="29.3" y="48.3" width="1.7" height="9.7" fill="#e8742f"/>
<rect x="32.7" y="48.3" width="1.7" height="9.7" fill="#e8742f"/>
<rect x="36.2" y="47.3" width="12" height="11.7" fill="#3c9b52"/>
<rect x="38.4" y="49.7" width="7.6" height="6.9" fill="#e583a6"/>
<rect x="39.6" y="52.45" width="5.2" height="1.4" fill="#3c9b52"/>
<rect x="48.2" y="47.3" width="11.8" height="11.7" fill="#b3213f"/>
<polygon points="49.9,53.15 54.1,48.95 58.3,53.15 54.1,57.35" fill="#d8a58a"/>
<rect x="53.1" y="52.15" width="2" height="2" fill="#b3213f"/>
<rect x="60" y="47.3" width="11.8" height="11.7" fill="#6b52a2"/>
<polygon points="61.7,53.15 65.9,48.95 70.1,53.15 65.9,57.35" fill="#e2733f"/>
<rect x="64.9" y="52.15" width="2" height="2" fill="#6b52a2"/>
<rect x="71.8" y="47.3" width="11.2" height="11.7" fill="#3b8b43"/>
<rect x="72.8" y="48.9" width="9.2" height="1.6" fill="#c38d52"/>
<rect x="72.8" y="52.3" width="9.2" height="1.6" fill="#c38d52"/>
<rect x="72.8" y="55.7" width="9.2" height="1.6" fill="#c38d52"/>
<rect x="13" y="59" width="11.4" height="12" fill="#dad262"/>
<path d="M15.3,66 l2,-3 l2,1.4 l2,-2.4 l1.4,1 l-1,3.4 l-2,3 l-4,0.6 l-1.4,-2 z" fill="#cf2b2f"/>
<rect x="24.4" y="59" width="11.8" height="12" fill="#d98f3f"/>
<polygon points="26.1,65 30.3,60.8 34.5,65 30.3,69.2" fill="#4a4152"/>
<rect x="29.3" y="64" width="2" height="2" fill="#d98f3f"/>
<rect x="36.2" y="59" width="12" height="12" fill="#7b1b3c"/>
<rect x="42.2" y="59" width="6" height="6" fill="#e893b3"/>
<rect x="36.2" y="65" width="6" height="6" fill="#e893b3"/>
<rect x="48.2" y="59" width="11.8" height="12" fill="#f2a931"/>
<circle cx="54.1" cy="65" r="3.4" fill="none" stroke="#e8721f" stroke-width="1.4"/>
<circle cx="54.1" cy="65" r="1" fill="#e8721f"/>
<rect x="60" y="59" width="11.8" height="12" fill="#da8262"/>
<rect x="61" y="60.6" width="9.8" height="1.6" fill="#a85a44"/>
<rect x="61" y="64" width="9.8" height="1.6" fill="#a85a44"/>
<rect x="61" y="67.4" width="9.8" height="1.6" fill="#a85a44"/>
<rect x="71.8" y="59" width="11.2" height="12" fill="#5b3b8b"/>
<polygon points="74,62.1 77.4,59.2 80.8,62.1 77.4,65" fill="#e9e163"/>
<polygon points="74,67.9 77.4,65 80.8,67.9 77.4,70.8" fill="#e9e163"/>
<rect x="83" y="59" width="11.7" height="12" fill="#1b72c2"/>
<rect x="85.2" y="61.4" width="7.3" height="7.2" fill="#21b2e2"/>
<rect x="86.4" y="64.3" width="4.9" height="1.4" fill="#1b72c2"/>
<rect x="24.4" y="71" width="11.8" height="11.8" fill="#7b4b21"/>
<polygon points="26.1,76.9 30.3,72.7 34.5,76.9 30.3,81.1" fill="#e2c232"/>
<rect x="29.3" y="75.9" width="2" height="2" fill="#7b4b21"/>
<rect x="36.2" y="71" width="12" height="11.8" fill="#5b2b22"/>
<rect x="37.7" y="72" width="1.7" height="9.8" fill="#e6b9c3"/>
<rect x="41.1" y="72" width="1.7" height="9.8" fill="#e6b9c3"/>
<rect x="44.5" y="72" width="1.7" height="9.8" fill="#e6b9c3"/>
<rect x="48.2" y="71" width="11.8" height="11.8" fill="#21a1b1"/>
<rect x="50.4" y="73.4" width="7.4" height="7" fill="#e9c943"/>
<rect x="51.6" y="76.2" width="5" height="1.4" fill="#21a1b1"/>
<rect x="60" y="71" width="11.8" height="11.8" fill="#b1a2d9"/>
<rect x="61.5" y="72" width="1.7" height="9.8" fill="#4b5bb1"/>
<rect x="64.9" y="72" width="1.7" height="9.8" fill="#4b5bb1"/>
<rect x="68.3" y="72" width="1.7" height="9.8" fill="#4b5bb1"/>
<rect x="73.5" y="71" width="7.8" height="11.8" fill="#1b8ba1"/>
<rect x="75.7" y="73.4" width="3.4" height="7" fill="#1b4f8f"/>
<rect x="76.9" y="76.2" width="1" height="1.4" fill="#1b8ba1"/>
<rect x="36.2" y="82.8" width="12" height="11.7" fill="#6b4b22"/>
<polygon points="38,88.65 42.2,84.45 46.4,88.65 42.2,92.85" fill="#c9c943"/>
<rect x="41.2" y="87.65" width="2" height="2" fill="#6b4b22"/>
<rect x="48.2" y="82.8" width="11.8" height="11.7" fill="#1b8bb2"/>
<rect x="50.4" y="85.2" width="7.4" height="6.9" fill="#35c3e6"/>
<rect x="51.6" y="87.95" width="5" height="1.4" fill="#1b8bb2"/>
<rect x="60" y="82.8" width="11.8" height="11.7" fill="#d9a152"/>
<polygon points="61.7,88.65 65.9,84.45 70.1,88.65 65.9,92.85" fill="#f0d25a"/>
<rect x="64.9" y="87.65" width="2" height="2" fill="#d9a152"/>
<rect x="48.2" y="94.5" width="11.8" height="11.7" fill="#2b9b32"/>
<polygon points="49.9,100.35 54.1,96.15 58.3,100.35 54.1,104.55" fill="#c1e142"/>
<rect x="53.1" y="99.35" width="2" height="2" fill="#2b9b32"/>
<text x="106.5" y="56.2" font-size="8.2" fill="#58585a" textLength="115.3" lengthAdjust="spacingAndGlyphs">ESTADO PLURINACIONAL DE</text>
<text x="105.4" y="79.75" font-size="32.4" fill="#58585a" font-weight="bold" textLength="119" lengthAdjust="spacingAndGlyphs" font-family='"Liberation Serif", serif' stroke="#58585a" stroke-width="0.35">BOLIVIA</text>
<text x="247.6" y="67.9" font-size="12" fill="#5d5d5f" textLength="83.4" lengthAdjust="spacingAndGlyphs">MINISTERIO DE</text>
<text x="247.6" y="79.8" font-size="12" fill="#5d5d5f" textLength="110.1" lengthAdjust="spacingAndGlyphs">SALUD Y DEPORTES</text>
<g transform="translate(110.1,791) rotate(-15.6)">
<line x1="66" y1="-1" x2="88.3" y2="-0.6" stroke="#27a0c9" stroke-width="4" stroke-linecap="round"/>
<rect x="52" y="-14.4" width="14.6" height="27.6" rx="1.5" fill="#1f7bbb"/>
<rect x="56.4" y="-9.3" width="5.2" height="16.6" fill="#0b8a4f"/>
<rect x="-83.2" y="-24.8" width="15.8" height="49.6" rx="2" fill="#1a409b"/>
<rect x="-77.8" y="-19.5" width="5.2" height="39" fill="#e6132b"/>
<rect x="-68" y="-10" width="16" height="20.4" fill="#1a409b"/>
<rect x="-66" y="-6" width="11.5" height="12" fill="#fbd20f"/>
<rect x="-54" y="-22.5" width="108" height="45" rx="3" fill="#1d53a7"/>
<rect x="-47.6" y="-17.3" width="95.2" height="34.6" fill="#9bce23"/>
<text x="-38.6" y="-1.6" font-size="15.5" fill="#e81f7b" font-weight="bold" font-style="italic" textLength="56.5" lengthAdjust="spacingAndGlyphs" stroke="#e81f7b" stroke-width="0.7" stroke-linejoin="round">Dosis de</text>
<g transform="translate(-47.5,16.6) rotate(-6.8)">
<text x="0" y="0" font-size="17.5" fill="url(#esp)" font-weight="bold" textLength="95" lengthAdjust="spacingAndGlyphs" stroke="url(#esp)" stroke-width="0.5">ESPERANZA</text>
</g>
</g>
<circle cx="218.7" cy="802.6" r="18.3" fill="#ffffff"/>
<circle cx="218.7" cy="802.6" r="16.3" fill="#2a70c2"/>
<path d="M210.8,795.2 l8.7,-3 l8.7,3 v7 c0,6 -4.4,9.6 -8.7,11.4 c-4.3,-1.8 -8.7,-5.4 -8.7,-11.4 z" fill="#e21f8c" stroke="#ffffff" stroke-width="1.5" stroke-linejoin="round"/>
<path d="M215.9,802.8 l2.6,2.6 l5,-5" fill="none" stroke="#ffffff" stroke-width="1.8" stroke-linecap="round" stroke-linejoin="round"/>
<circle cx="274.8" cy="802.6" r="18.3" fill="#ffffff"/>
<circle cx="274.8" cy="802.6" r="16.3" fill="#f08c31"/>
<circle cx="274.8" cy="802.6" r="9" fill="#f6b75e" stroke="#ffffff" stroke-width="1.6"/>
<path d="M269.6,801.2 l1.6,-1.5 l1.6,1.5 M276.8,801.2 l1.6,-1.5 l1.6,1.5" fill="none" stroke="#fde2a4" stroke-width="1.1" stroke-linecap="round" stroke-linejoin="round"/>
<path d="M270.6,805 q4.2,4.6 8.4,0" fill="none" stroke="#fde2a4" stroke-width="1.3" stroke-linecap="round"/>
<circle cx="333.4" cy="803.1" r="18.3" fill="#ffffff"/>
<circle cx="333.4" cy="803.1" r="16.3" fill="#2aa69b"/>
<clipPath id="cv"><circle cx="333.4" cy="803.1" r="16.3"/></clipPath>
<g clip-path="url(#cv)"><g transform="translate(333.4,803.1)">
<rect x="-3.9" y="5.4" width="9.8" height="13" fill="#2a63b5" stroke="#ffffff" stroke-width="1.3"/>
<rect x="-3.9" y="5.4" width="9.8" height="4" fill="#ffffff"/>
<rect x="-2.6" y="6.7" width="7.2" height="1.5" fill="#24509a"/>
<clipPath id="ch"><path d="M-3.2,5.2 V1 L-7.2,-1.6 L-6.2,-3.6 L-3.2,-2.2 V-9.6 a1.1,1.1 0 0 1 2.2,0 V-11 a1.1,1.1 0 0 1 2.2,0 V-10.6 a1.1,1.1 0 0 1 2.2,0 V-9 a1,1 0 0 1 2,0 V2 Q5.4,5.2 3.4,5.2 Z"/></clipPath>
<path d="M-3.2,5.2 V1 L-7.2,-1.6 L-6.2,-3.6 L-3.2,-2.2 V-9.6 a1.1,1.1 0 0 1 2.2,0 V-11 a1.1,1.1 0 0 1 2.2,0 V-10.6 a1.1,1.1 0 0 1 2.2,0 V-9 a1,1 0 0 1 2,0 V2 Q5.4,5.2 3.4,5.2 Z" fill="#f08a2e" stroke="#ffffff" stroke-width="1.5" stroke-linejoin="round"/>
<rect x="-4" y="-13" width="10" height="7.4" fill="#f9d2a4" clip-path="url(#ch)"/>
<path d="M-1,-9.4 V-5.6 M1.2,-10.2 V-5.6 M3.4,-9.4 V-5.6" stroke="#ffffff" stroke-width="0.6" fill="none"/>
</g></g>
<circle cx="395.4" cy="803.2" r="18.3" fill="#ffffff"/>
<circle cx="395.4" cy="803.2" r="16.3" fill="#1f9a5b"/>
<g fill="none" stroke="#ffffff" stroke-width="1.2" stroke-linecap="round" stroke-linejoin="round">
<path d="M395.4,796 v17 M388.6,813.2 h13.6 M387.4,797.6 h16"/>
<path d="M388.4,797.8 l-3.3,7.8 M388.4,797.8 l3.3,7.8 M402.4,797.8 l-3.3,7.8 M402.4,797.8 l3.3,7.8"/>
<path d="M385,805.6 h6.8 q-0.4,2.8 -3.4,2.8 q-3,0 -3.4,-2.8 z M399,805.6 h6.8 q-0.4,2.8 -3.4,2.8 q-3,0 -3.4,-2.8 z"/>
</g>
<circle cx="395.4" cy="795.6" r="1.2" fill="#1f9a5b" stroke="#ffffff" stroke-width="0.9"/>
<text x="199" y="833.7" font-size="10.8" fill="#183a2f" textLength="37.4" lengthAdjust="spacingAndGlyphs" stroke="#183a2f" stroke-width="0.4">Segura</text>
<text x="254.6" y="833.7" font-size="10.8" fill="#183a2f" textLength="42.1" lengthAdjust="spacingAndGlyphs" stroke="#183a2f" stroke-width="0.4">Gratuita</text>
<text x="307.2" y="833.7" font-size="10.8" fill="#183a2f" textLength="53.8" lengthAdjust="spacingAndGlyphs" stroke="#183a2f" stroke-width="0.4">Voluntaria</text>
<text x="369.2" y="833.7" font-size="10.8" fill="#183a2f" textLength="53.2" lengthAdjust="spacingAndGlyphs" stroke="#183a2f" stroke-width="0.4">Equitativa</text>
</svg></body></html>
